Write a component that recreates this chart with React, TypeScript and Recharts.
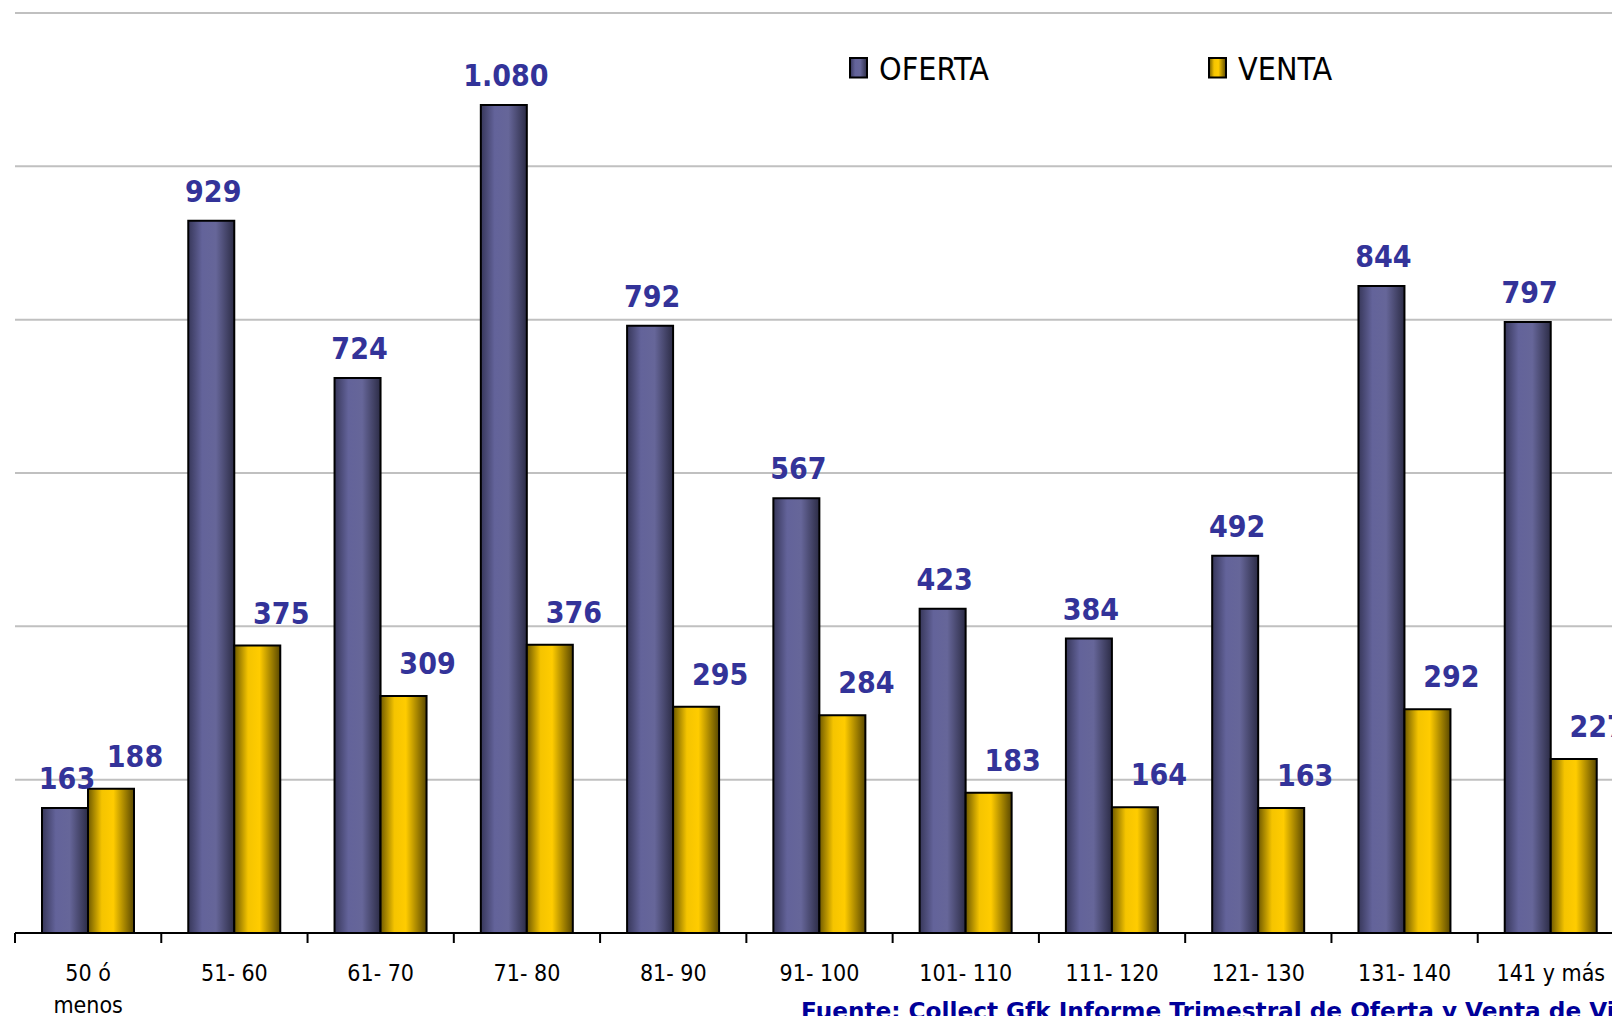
import { Bar, BarChart, CartesianGrid, LabelList, Legend, XAxis, YAxis } from "recharts";

const CATEGORIES = [
  "50 ó\nmenos",
  "51- 60",
  "61- 70",
  "71- 80",
  "81- 90",
  "91- 100",
  "101- 110",
  "111- 120",
  "121- 130",
  "131- 140",
  "141 y más",
];
const OFERTA = [163, 929, 724, 1080, 792, 567, 423, 384, 492, 844, 797];
const VENTA = [188, 375, 309, 376, 295, 284, 183, 164, 163, 292, 227];
const Y_TICKS = [0, 200, 400, 600, 800, 1000, 1200];
const SERIES = [
  { key: "oferta", label: "OFERTA", grad: "gradOferta" },
  { key: "venta", label: "VENTA", grad: "gradVenta" },
];
const SOURCE = "Fuente: Collect Gfk Informe Trimestral de Oferta y Venta de Viviendas";

const CHART_W = 1640;
const CHART_H = 1016;
const MARGIN = { top: 13, right: 16, left: 15, bottom: 8 };
const BAND = (CHART_W - MARGIN.left - MARGIN.right) / CATEGORIES.length;

const NARROW = "'DejaVu Sans Condensed', 'Liberation Sans Narrow', 'DejaVu Sans', sans-serif";
const LABEL_COLOR = "#333399";

const data = CATEGORIES.map((name, i) => ({ name, oferta: OFERTA[i], venta: VENTA[i] }));

const fmt = (v: number) => String(v).replace(/\B(?=(\d{3})+(?!\d))/g, ".");

function CategoryTick(props: any) {
  const { x, y, payload, index } = props;
  const lines = String(payload.value).split("\n");
  const left = x - BAND / 2;
  return (
    <g>
      <line x1={left} x2={left} y1={y} y2={y + 10} stroke="#000" strokeWidth={2} />
      {index === CATEGORIES.length - 1 && (
        <line x1={left + BAND} x2={left + BAND} y1={y} y2={y + 10} stroke="#000" strokeWidth={2} />
      )}
      <text x={x} y={y + 48} textAnchor="middle" fill="#000" fontSize={23} fontFamily={NARROW}>
        {lines.map((l, i) => (
          <tspan key={i} x={x} dy={i ? 32 : 0}>
            {l}
          </tspan>
        ))}
      </text>
    </g>
  );
}

const valueLabel = (dx: number, lift: number) => (props: any) => {
  const { x, y, width, value } = props;
  return (
    <text
      x={x + width / 2 + dx}
      y={y - lift}
      textAnchor="middle"
      fill={LABEL_COLOR}
      fontSize={30}
      fontWeight="bold"
      fontFamily={NARROW}
    >
      {fmt(value)}
    </text>
  );
};

function LegendBox() {
  const pos = [
    { box: 850, text: 879 },
    { box: 1209, text: 1238 },
  ];
  return (
    <svg width={CHART_W} height={100} style={{ display: "block" }}>
      {SERIES.map((s, i) => (
        <g key={s.key}>
          <rect x={pos[i].box} y={58} width={17} height={19.5} fill={`url(#${s.grad})`} stroke="#000" strokeWidth={2} />
          <text x={pos[i].text} y={80} fontSize={32} fontFamily={NARROW} fill="#000">
            {s.label}
          </text>
        </g>
      ))}
    </svg>
  );
}

export default function App() {
  return (
    <div
      style={{
        position: "absolute",
        left: 0,
        top: 0,
        width: 1612,
        height: 1016,
        overflow: "hidden",
        background: "#fff",
      }}
    >
      <BarChart width={CHART_W} height={CHART_H} data={data} margin={MARGIN} barGap={0} barSize={46}>
        <defs>
          <linearGradient id="gradOferta" x1="0" y1="0" x2="1" y2="0">
            <stop offset="0" stopColor="#37375a" />
            <stop offset="0.3" stopColor="#63639a" />
            <stop offset="0.6" stopColor="#666699" />
            <stop offset="1" stopColor="#2c2c46" />
          </linearGradient>
          <linearGradient id="gradVenta" x1="0" y1="0" x2="1" y2="0">
            <stop offset="0" stopColor="#6f5a00" />
            <stop offset="0.3" stopColor="#f5c400" />
            <stop offset="0.55" stopColor="#ffcc00" />
            <stop offset="1" stopColor="#5a4800" />
          </linearGradient>
        </defs>
        <CartesianGrid vertical={false} stroke="#c0c0c0" strokeWidth={2} />
        <YAxis hide width={0} domain={[0, 1200]} ticks={Y_TICKS} />
        <XAxis
          dataKey="name"
          height={75}
          interval={0}
          axisLine={{ stroke: "#000", strokeWidth: 2 }}
          tickLine={false}
          tickSize={0}
          tickMargin={0}
          tick={<CategoryTick />}
        />
        <Legend
          layout="horizontal"
          verticalAlign="middle"
          align="center"
          wrapperStyle={{ left: 0, top: 0, width: CHART_W, height: 100 }}
          content={() => <LegendBox />}
        />
        <Bar dataKey="oferta" fill="url(#gradOferta)" stroke="#000" strokeWidth={2} isAnimationActive={false}>
          <LabelList dataKey="oferta" content={valueLabel(2, 19)} />
        </Bar>
        <Bar dataKey="venta" fill="url(#gradVenta)" stroke="#000" strokeWidth={2} isAnimationActive={false}>
          <LabelList dataKey="venta" content={valueLabel(24, 22)} />
        </Bar>
      </BarChart>
      <svg
        width={1612}
        height={1016}
        style={{ position: "absolute", left: 0, top: 0, pointerEvents: "none" }}
      >
        <text x={801} y={1019} fontSize={23.2} fontWeight="bold" fontFamily="'DejaVu Sans', sans-serif" fill="#000099">
          {SOURCE}
        </text>
      </svg>
    </div>
  );
}
